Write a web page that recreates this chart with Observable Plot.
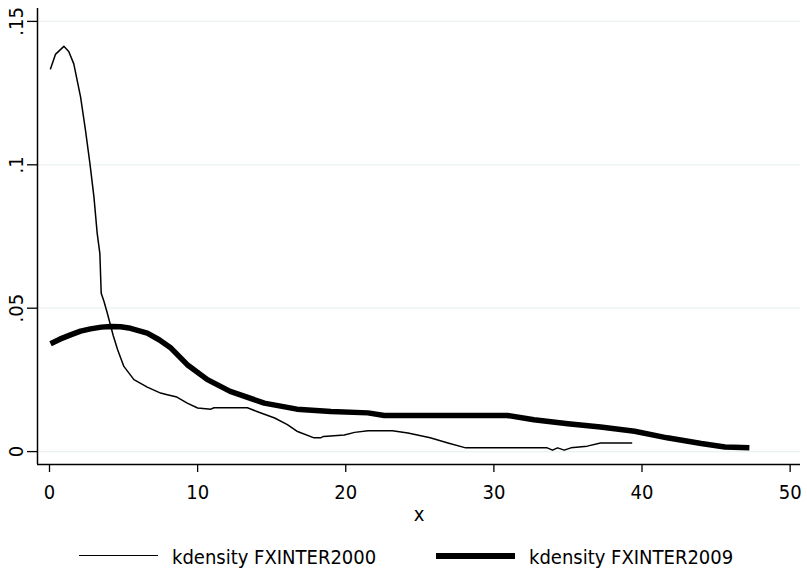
<!DOCTYPE html>
<html>
<head>
<meta charset="utf-8">
<script src="https://cdn.jsdelivr.net/npm/d3@7"></script>
<script src="https://cdn.jsdelivr.net/npm/@observablehq/plot@0.6"></script>
<style>
  html, body { margin: 0; padding: 0; background: #fff; }
  body { font-family: "DejaVu Sans Condensed", "Liberation Sans Narrow", sans-serif; }
  #legend { position: relative; width: 807px; height: 43px; font-size: 20px; color: #000; }
  #legend .sw { position: absolute; top: 26px; height: 0; border-top-style: solid; border-top-color: #000; }
  #legend .lb { position: absolute; top: 16px; line-height: 22px; white-space: nowrap; }
</style>
</head>
<body>
<div id="chart"></div>
<div id="legend"></div>
<script>
// ---- data ----
const x2000 = [0.07,0.4,0.97,1.3,1.64,2.1,2.43,2.73,3.0,3.22,3.4,3.49,3.67,3.9,4.3,4.6,5.02,5.7,6.6,7.5,7.95,8.6,9.3,10.0,10.9,11.1,13.36,14.0,15.2,16.06,16.7,17.86,18.3,18.5,19.9,20.6,21.5,23.15,24.2,25.7,26.9,28.1,33.6,33.96,34.3,34.75,35.2,36.3,37.2,39.3];
const y2000 = [0.1335,0.1385,0.1413,0.1395,0.1352,0.1236,0.112,0.1004,0.0888,0.0761,0.0691,0.0552,0.0525,0.0483,0.0405,0.0355,0.0297,0.0251,0.0225,0.0204,0.0198,0.019,0.0169,0.0152,0.0148,0.0153,0.0153,0.014,0.0117,0.0094,0.0071,0.0048,0.0048,0.0053,0.0058,0.0067,0.0073,0.0073,0.0065,0.0048,0.003,0.0013,0.0013,0.0005,0.0013,0.0005,0.0013,0.0019,0.003,0.003];
const x2009 = [0.07,0.7,1.42,2.1,2.77,3.5,4.12,4.8,5.47,6.6,7.4,8.2,9.3,10.66,12.2,14.5,16.7,19.0,21.5,22.6,30.9,32.7,35.0,37.2,39.5,41.7,44.0,45.6,47.25];
const y2009 = [0.0376,0.0392,0.0407,0.042,0.0428,0.0434,0.0436,0.0435,0.043,0.0413,0.039,0.0361,0.0303,0.0251,0.021,0.0169,0.0148,0.014,0.0135,0.0126,0.0126,0.0111,0.0097,0.0086,0.0071,0.0048,0.0028,0.0016,0.0013];
const seriesNames = ["kdensity FXINTER2000", "kdensity FXINTER2009"];
const xTicks = [0, 10, 20, 30, 40, 50];
const yTicks = [0, 0.05, 0.1, 0.15];
const yTickLabels = ["0", ".05", ".1", ".15"];
const xLabel = "x";
const xDomain = [-0.81, 50.7];
const yDomain = [-0.0045, 0.1545];

const d2000 = x2000.map((x, i) => ({x, y: y2000[i]}));
const d2009 = x2009.map((x, i) => ({x, y: y2009[i]}));
const FONT = '"DejaVu Sans Condensed", "Liberation Sans Narrow", sans-serif';

const chart = Plot.plot({
  width: 807,
  height: 530,
  marginLeft: 37,
  marginRight: 7,
  marginTop: 8,
  marginBottom: 66,
  style: {fontFamily: FONT, fontSize: "20px", color: "#000", background: "#fff"},
  x: {domain: xDomain},
  y: {domain: yDomain},
  marks: [
    Plot.gridY(yTicks, {stroke: "#eaf2f3", strokeOpacity: 1, strokeWidth: 1.3}),
    Plot.axisX({ticks: xTicks, tickSize: 8, tickPadding: 12, tickFormat: d => String(d), fontSize: 20, label: null, strokeWidth: 1.3}),
    Plot.axisY({ticks: yTicks, tickSize: 10, tickFormat: () => "", label: null, strokeWidth: 1.3}),
    Plot.text(yTicks, {y: d => d, text: (d, i) => yTickLabels[i], frameAnchor: "left", rotate: -90, dx: -21, textAnchor: "middle", lineAnchor: "middle", fontSize: 20}),
    Plot.text([xLabel], {text: d => d, frameAnchor: "bottom", dy: 56, fontSize: 20}),
    Plot.ruleX([xDomain[0]], {strokeWidth: 1.5}),
    Plot.ruleY([yDomain[0]], {strokeWidth: 1.5}),
    Plot.line(d2000, {x: "x", y: "y", stroke: "#000", strokeWidth: 1.5}),
    Plot.line(d2009, {x: "x", y: "y", stroke: "#000", strokeWidth: 5.5, strokeLinecap: "butt"})
  ]
});
document.getElementById("chart").appendChild(chart);

// legend below the SVG
const legend = document.getElementById("legend");
const items = [
  {name: seriesNames[0], w: 1.5, left: 79},
  {name: seriesNames[1], w: 6, left: 436}
];
for (const it of items) {
  const sw = document.createElement("div");
  sw.className = "sw";
  sw.style.left = it.left + "px";
  sw.style.width = "79px";
  sw.style.borderTopWidth = it.w + "px";
  sw.style.marginTop = (-it.w / 2) + "px";
  legend.appendChild(sw);
  const lb = document.createElement("div");
  lb.className = "lb";
  lb.style.left = (it.left + 93) + "px";
  lb.textContent = it.name;
  legend.appendChild(lb);
}
</script>
</body>
</html>
